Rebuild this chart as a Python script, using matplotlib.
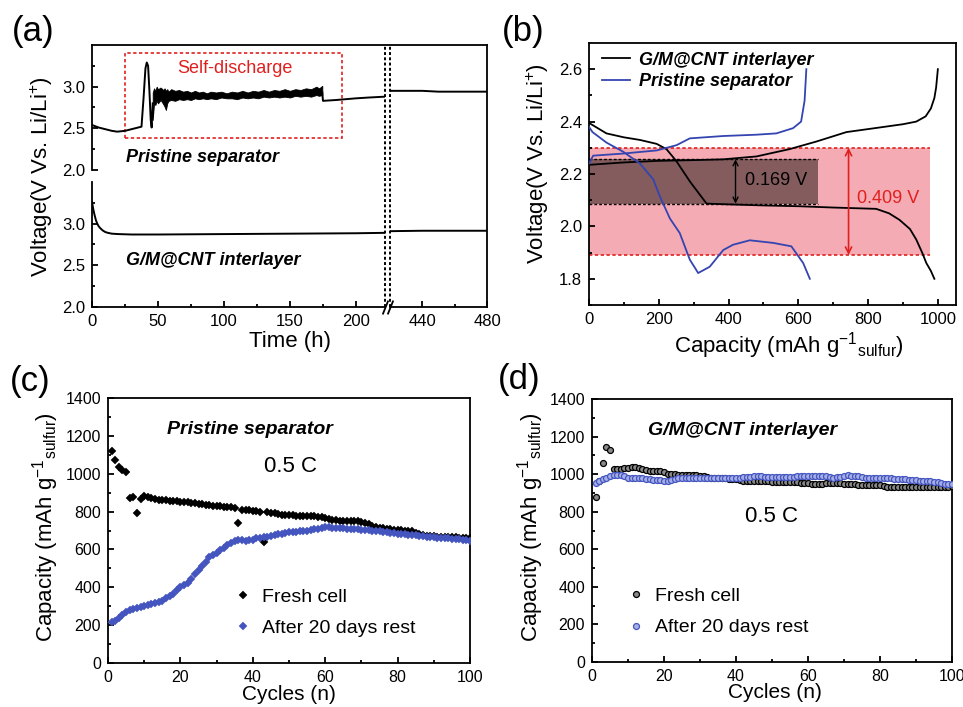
import matplotlib
matplotlib.use("Agg")
import matplotlib.pyplot as plt
import matplotlib.transforms as mtransforms
from matplotlib.patches import Rectangle
import numpy as np

plt.rcParams['font.family'] = ['Liberation Sans', 'DejaVu Sans']
plt.rcParams['mathtext.fontset'] = 'custom'
plt.rcParams['mathtext.rm'] = 'Liberation Sans'
plt.rcParams['mathtext.it'] = 'Liberation Sans:italic'
plt.rcParams['mathtext.bf'] = 'Liberation Sans:bold'

# ---------------- data: panel (a) ----------------
# Pristine separator (top trace), left segment
t_pris = [0, 5, 10, 15, 19, 25, 30, 35, 37.5, 39, 40.5, 41.5, 42.5, 43.5, 44.5, 45.2, 46]
v_pris = [2.54, 2.51, 2.49, 2.47, 2.46, 2.47, 2.49, 2.51, 2.52, 2.85, 3.22, 3.29, 3.25, 2.95, 2.60, 2.51, 2.80]
# noisy self-discharge band (lower / upper envelope)
t_band = [46, 47, 48, 49, 50, 52, 54, 55, 56, 57, 58, 60, 63, 66, 69, 72, 75, 78, 81, 84,
          87, 90, 94, 98, 102, 106, 110, 114, 118, 122, 126, 130, 134, 138, 142, 146, 150,
          154, 158, 162, 166, 170, 172, 174.5]
hi_band = [2.93, 2.98, 2.95, 3.00, 2.97, 2.99, 2.96, 2.98, 2.95, 2.97, 2.94, 2.97, 2.95, 2.96,
           2.94, 2.95, 2.93, 2.95, 2.93, 2.94, 2.92, 2.94, 2.93, 2.94, 2.92, 2.94, 2.93, 2.95,
           2.93, 2.95, 2.94, 2.96, 2.94, 2.96, 2.95, 2.97, 2.95, 2.97, 2.96, 2.98, 2.97, 3.00,
           2.98, 3.01]
lo_band = [2.60, 2.80, 2.78, 2.83, 2.80, 2.84, 2.79, 2.76, 2.72, 2.80, 2.83, 2.84, 2.83, 2.85,
           2.84, 2.85, 2.84, 2.86, 2.85, 2.86, 2.85, 2.86, 2.85, 2.87, 2.86, 2.86, 2.85, 2.87,
           2.86, 2.87, 2.86, 2.88, 2.87, 2.88, 2.87, 2.88, 2.87, 2.89, 2.88, 2.89, 2.88, 2.90,
           2.89, 2.90]
t_pris2 = [174.5, 175, 185, 200, 210, 222]
v_pris2 = [2.93, 2.83, 2.84, 2.86, 2.87, 2.88]
t_pris_r = [420, 430, 440, 450, 460, 470, 480]
v_pris_r = [2.95, 2.95, 2.95, 2.94, 2.94, 2.94, 2.94]
# G/M@CNT interlayer (bottom trace)
t_gm = [0, 1, 2, 3, 4, 5, 6, 8, 10, 12, 15, 20, 30, 50, 100, 150, 200, 222]
v_gm = [3.26, 3.17, 3.10, 3.04, 3.00, 2.97, 2.95, 2.92, 2.90, 2.89, 2.88, 2.875, 2.87, 2.87, 2.875, 2.88, 2.885, 2.89]
t_gm_r = [420, 440, 460, 480]
v_gm_r = [2.91, 2.915, 2.915, 2.915]

# ---------------- data: panel (b) ----------------
cap_gm_dis = [0, 50, 100, 146, 194, 222, 250, 290, 337, 400, 500, 600, 700, 823, 860, 890, 920, 938, 955, 967, 980, 990]
v_gm_dis = [2.395, 2.355, 2.34, 2.33, 2.315, 2.295, 2.25, 2.17, 2.087, 2.084, 2.08, 2.077, 2.072, 2.067, 2.05, 2.025, 1.99, 1.95, 1.90, 1.86, 1.83, 1.80]
cap_gm_ch = [0, 98, 194, 300, 385, 480, 575, 652, 738, 814, 900, 938, 965, 980, 990, 995, 1000]
v_gm_ch = [2.235, 2.244, 2.25, 2.253, 2.256, 2.267, 2.295, 2.324, 2.36, 2.374, 2.39, 2.40, 2.42, 2.45, 2.49, 2.53, 2.60]
cap_pr_dis = [0, 10, 50, 98, 146, 184, 203, 232, 260, 289, 313, 346, 385, 413, 461, 528, 580, 614, 633]
v_pr_dis = [2.38, 2.36, 2.32, 2.285, 2.24, 2.18, 2.115, 2.03, 1.975, 1.873, 1.822, 1.846, 1.91, 1.93, 1.947, 1.937, 1.924, 1.86, 1.80]
cap_pr_ch = [0, 12, 98, 194, 251, 289, 385, 480, 537, 585, 608, 618, 623]
v_pr_ch = [2.24, 2.27, 2.278, 2.29, 2.31, 2.336, 2.345, 2.35, 2.355, 2.375, 2.40, 2.48, 2.60]
band_red = (1.891, 2.300)   # 0.409 V window
band_dark = (2.087, 2.256)  # 0.169 V window
band_red_x = 978
band_dark_x = 655

# ---------------- data: panel (c) ----------------
cycles = list(range(1, 101))
c_fresh = [1120, 1075, 1035, 1020, 1008, 870, 875, 790, 865, 884,
           878, 870, 866, 862, 860, 860, 858, 857, 855, 852,
           850, 848, 847, 845, 842, 840, 836, 833, 830, 829,
           828, 826, 825, 823, 820, 740, 810, 808, 806, 805,
           803, 800, 637, 800, 795, 792, 788, 784, 782, 780,
           780, 778, 776, 775, 775, 775, 774, 772, 770, 768,
           763, 758, 755, 752, 750, 750, 750, 750, 748, 745,
           740, 733, 725, 718, 715, 712, 710, 708, 705, 703,
           702, 700, 698, 695, 688, 680, 676, 673, 671, 670,
           668, 668, 667, 666, 665, 664, 662, 661, 660, 658]
c_rest = [215, 220, 238, 255, 272, 282, 287, 292, 297, 302,
          306, 311, 316, 322, 330, 345, 355, 365, 385, 402,
          410, 425, 445, 468, 490, 510, 535, 558, 570, 582,
          595, 608, 622, 636, 643, 648, 648, 645, 648, 652,
          658, 662, 665, 668, 672, 676, 680, 683, 686, 690,
          692, 694, 696, 698, 700, 703, 706, 710, 714, 718,
          717, 715, 713, 712, 711, 710, 708, 707, 706, 705,
          704, 702, 700, 698, 696, 693, 690, 688, 686, 684,
          682, 680, 678, 676, 674, 672, 670, 668, 666, 664,
          662, 660, 659, 658, 656, 655, 653, 651, 649, 647]

# ---------------- data: panel (d) ----------------
d_fresh = [880, 965, 1060, 1145, 1128, 1026, 1028, 1030, 1032, 1035,
           1036, 1036, 1034, 1025, 1020, 1018, 1017, 1016, 1015, 1012,
           1002, 1000, 999, 998, 998, 997, 996, 995, 994, 992,
           988, 985, 982, 980, 978, 978, 977, 976, 975, 974,
           968, 966, 965, 965, 965, 965, 965, 964, 962, 958,
           957, 957, 956, 956, 956, 956, 956, 955, 955, 954,
           950, 950, 950, 950, 951, 952, 952, 952, 952, 950,
           948, 947, 945, 943, 942, 942, 943, 944, 944, 943,
           938, 934, 932, 931, 931, 930, 930, 929, 929, 929,
           929, 930, 930, 930, 931, 932, 932, 933, 934, 935]
d_rest = [955, 965, 975, 982, 990, 995, 998, 998, 992, 982,
          978, 978, 978, 977, 976, 972, 968, 968, 968, 966,
          965, 968, 975, 978, 978, 978, 978, 979, 980, 980,
          980, 980, 980, 979, 978, 980, 982, 982, 982, 981,
          980, 983, 986, 987, 988, 988, 988, 986, 985, 984,
          984, 984, 985, 986, 986, 987, 988, 988, 989, 990,
          990, 990, 991, 992, 990, 984, 982, 983, 986, 992,
          993, 992, 990, 988, 985, 980, 978, 978, 978, 978,
          978, 977, 977, 976, 975, 973, 972, 970, 969, 968,
          966, 964, 963, 962, 960, 957, 954, 950, 948, 947]

# ---------------- styling ----------------
W, H = 963, 707
fig = plt.figure(figsize=(W / 100, H / 100), dpi=100)
BLUE = '#3444b0'
BLUE_C = '#4455c0'
RED = '#e0201e'
PINK = '#f4abb4'
DARK = '#845c5e'
SPW = 1.3
TICKFS = 12
BOLDIT = dict(fontweight='bold', fontstyle='italic')


def rect(l, t, r, b):
    return [l / W, 1 - b / H, (r - l) / W, (b - t) / H]


def style(ax, left=True, bottom=True, fs=TICKFS):
    for s in ['top', 'right']:
        ax.spines[s].set_visible(False)
    ax.spines['left'].set_visible(left)
    ax.spines['bottom'].set_visible(bottom)
    for s in ax.spines.values():
        s.set_linewidth(SPW)
    ax.tick_params(which='both', direction='in', width=SPW, labelsize=fs, pad=5,
                   top=False, right=False, left=left, bottom=bottom,
                   labelleft=left, labelbottom=bottom)
    ax.tick_params(which='major', length=4.5)
    ax.tick_params(which='minor', length=2.5)
    ax.patch.set_visible(False)


# ================= panel (a) =================
axF = fig.add_axes(rect(92, 45, 487, 307))
axF.set_xticks([]); axF.set_yticks([])
axF.spines['left'].set_visible(False)
axF.spines['bottom'].set_visible(False)
for s in ['top', 'right']:
    axF.spines[s].set_linewidth(SPW)
axF.patch.set_visible(False)

TL = fig.add_axes(rect(92, 45, 385, 170))
TR = fig.add_axes(rect(390, 45, 487, 170))
BL = fig.add_axes(rect(92, 182, 385, 307))
BR = fig.add_axes(rect(390, 182, 487, 307))
style(TL, left=True, bottom=False)
style(TR, left=False, bottom=False)
style(BL, left=True, bottom=True)
style(BR, left=False, bottom=True)
for ax in (TL, BL):
    ax.set_xlim(0, 222)
for ax in (TR, BR):
    ax.set_xlim(420, 480)
for ax in (TL, TR, BL, BR):
    ax.set_ylim(2.0, 3.5)
for ax in (TL, BL):
    ax.set_yticks([2.0, 2.5, 3.0])
    ax.set_yticks([2.25, 2.75, 3.25], minor=True)
    ax.set_yticklabels(['2.0', '2.5', '3.0'])
for ax in (TR, BR):
    ax.set_yticks([])
TL.set_xticks([]); TR.set_xticks([])
BL.set_xticks([0, 50, 100, 150, 200])
BL.set_xticks([25, 75, 125, 175], minor=True)
BR.set_xticks([440, 480])
BR.set_xticks([460], minor=True)

lw_a = 1.4
TL.plot(t_pris, v_pris, color='k', lw=lw_a)
TL.fill_between(t_band, lo_band, hi_band, color='k', lw=0.6)
TL.plot(t_pris2, v_pris2, color='k', lw=lw_a)
TR.plot(t_pris_r, v_pris_r, color='k', lw=lw_a)
BL.plot(t_gm, v_gm, color='k', lw=lw_a)
BR.plot(t_gm_r, v_gm_r, color='k', lw=lw_a)

TL.add_patch(Rectangle((25, 2.38), 164.4, 1.02, fill=False, edgecolor=RED,
                       lw=1.2, ls=(0, (2, 1.5)), clip_on=False))
TL.text(108, 3.22, 'Self-discharge', color=RED, fontsize=13, ha='center', va='center')
TL.text(26, 2.155, 'Pristine separator', fontsize=13, ha='left', va='center', **BOLDIT)
BL.text(26, 2.56, 'G/M@CNT interlayer', fontsize=13, ha='left', va='center', **BOLDIT)

trL = mtransforms.blended_transform_factory(BL.transData, axF.transAxes)
trR = mtransforms.blended_transform_factory(BR.transData, axF.transAxes)
axF.plot([222, 222], [0, 1], transform=trL, color='k', lw=1.4, ls=(0, (1.5, 1.2)), clip_on=False)
axF.plot([420, 420], [0, 1], transform=trR, color='k', lw=1.4, ls=(0, (1.5, 1.2)), clip_on=False)
brk = [(-0.6, -1.5), (0.6, 1.5)]
BL.plot([1], [0], transform=BL.transAxes, marker=brk, markersize=10, mew=1.3,
        color='k', mec='k', clip_on=False, ls='none')
BR.plot([0], [0], transform=BR.transAxes, marker=brk, markersize=10, mew=1.3,
        color='k', mec='k', clip_on=False, ls='none')

fig.text(290 / W, 1 - 341 / H, 'Time (h)', fontsize=16, ha='center', va='center')
fig.text(42 / W, 1 - 177 / H, r'Voltage(V Vs. Li/Li$^{+}$)', fontsize=16,
         ha='center', va='center', rotation=90)
fig.text(12 / W, 1 - 32 / H, '(a)', fontsize=25, ha='left', va='center')

# ================= panel (b) =================
axB = fig.add_axes(rect(589, 43, 956, 305))
style(axB)
axB.set_xlim(0, 1052)
axB.set_ylim(1.7, 2.7)
axB.set_xticks([0, 200, 400, 600, 800, 1000])
axB.set_xticks([100, 300, 500, 700, 900], minor=True)
axB.set_yticks([1.8, 2.0, 2.2, 2.4, 2.6])
axB.set_yticks([1.7, 1.9, 2.1, 2.3, 2.5], minor=True)
axB.set_yticklabels(['1.8', '2.0', '2.2', '2.4', '2.6'])
for s in ['top', 'right']:
    axB.spines[s].set_visible(True)
    axB.spines[s].set_linewidth(SPW)

axB.fill_between([0, band_red_x], band_red[0], band_red[1], color=PINK, lw=0, zorder=0)
axB.fill_between([0, band_dark_x], band_dark[0], band_dark[1], color=DARK, lw=0, zorder=0.5)
for yv in band_red:
    axB.plot([0, band_red_x], [yv, yv], color=RED, lw=1.2, ls=(0, (2, 1.5)), zorder=1)
for yv in band_dark:
    axB.plot([0, band_dark_x], [yv, yv], color='k', lw=1.0, ls=(0, (2, 1.5)), zorder=1)

axB.plot(cap_gm_dis, v_gm_dis, color='k', lw=1.3, zorder=3, label='G/M@CNT interlayer')
axB.plot(cap_gm_ch, v_gm_ch, color='k', lw=1.3, zorder=3)
axB.plot(cap_pr_dis, v_pr_dis, color=BLUE, lw=1.3, zorder=3, label='Pristine separator')
axB.plot(cap_pr_ch, v_pr_ch, color=BLUE, lw=1.3, zorder=3)

axB.annotate('', xy=(420, band_dark[1]), xytext=(420, band_dark[0]),
             arrowprops=dict(arrowstyle='<->', color='k', lw=1.0,
                             shrinkA=0, shrinkB=0, mutation_scale=9), zorder=4)
axB.annotate('', xy=(744, band_red[1]), xytext=(744, band_red[0]),
             arrowprops=dict(arrowstyle='<->', color=RED, lw=1.2,
                             shrinkA=0, shrinkB=0, mutation_scale=11), zorder=4)
axB.text(446, 2.176, '0.169 V', fontsize=13, ha='left', va='center', zorder=5)
axB.text(768, 2.106, '0.409 V', fontsize=13, ha='left', va='center', color=RED, zorder=5)

legB = axB.legend(loc='upper left', bbox_to_anchor=(0.0, 1.015), frameon=False,
                  prop=dict(size=13, weight='bold', style='italic'),
                  handlelength=1.55, handletextpad=0.5, labelspacing=0.25,
                  borderaxespad=0.3)

fig.text(538 / W, 1 - 164 / H, r'Voltage(V Vs. Li/Li$^{+}$)', fontsize=16,
         ha='center', va='center', rotation=90)
fig.text(789 / W, 1 - 346 / H, r'Capacity (mAh g$^{-1}$$_{\mathrm{sulfur}}$)', fontsize=16,
         ha='center', va='center')
fig.text(502 / W, 1 - 32 / H, '(b)', fontsize=25, ha='left', va='center')

# ================= panels (c), (d) =================
def cap_axes(r):
    ax = fig.add_axes(r)
    style(ax, fs=11.5)
    for s in ['top', 'right']:
        ax.spines[s].set_visible(True)
        ax.spines[s].set_linewidth(SPW)
    ax.set_xlim(0, 100)
    ax.set_ylim(0, 1400)
    ax.set_xticks([0, 20, 40, 60, 80, 100])
    ax.set_xticks([10, 30, 50, 70, 90], minor=True)
    ax.set_yticks(list(range(0, 1401, 200)))
    ax.set_yticks(list(range(100, 1400, 200)), minor=True)
    return ax


axC = cap_axes(rect(108, 398, 470, 663))
axC.plot(cycles, c_fresh, ls='none', marker='D', ms=3.6, color='k', mec='k', mew=0.3,
         label='Fresh cell', zorder=3)
axC.plot(cycles, c_rest, ls='none', marker='D', ms=3.6, color=BLUE_C, mec=BLUE_C, mew=0.3,
         label='After 20 days rest', zorder=3)
axC.text(16.3, 1231, 'Pristine separator', fontsize=14, ha='left', va='center', **BOLDIT)
axC.text(50.3, 1037, '0.5 C', fontsize=16, ha='center', va='center')
axC.legend(loc='center left', bbox_to_anchor=(0.345, 0.19), frameon=False, fontsize=14,
           handlelength=1.0, handletextpad=0.5, labelspacing=0.7, borderaxespad=0,
           borderpad=0)

axD = cap_axes(rect(592, 399, 952, 662))
axD.plot(cycles, d_fresh, ls='none', marker='o', ms=4.3, mfc='#8a8a8a', mec='k', mew=0.9,
         label='Fresh cell', zorder=3)
axD.plot(cycles, d_rest, ls='none', marker='o', ms=4.3, mfc='#a7b0e6', mec=BLUE_C, mew=0.9,
         label='After 20 days rest', zorder=3)
axD.text(15.6, 1232, 'G/M@CNT interlayer', fontsize=14, ha='left', va='center', **BOLDIT)
axD.text(49.9, 773, '0.5 C', fontsize=16, ha='center', va='center')
axD.legend(loc='center left', bbox_to_anchor=(0.095, 0.19), frameon=False, fontsize=14,
           handlelength=1.0, handletextpad=0.5, labelspacing=0.7, borderaxespad=0,
           borderpad=0)

cap_label = r'Capacity (mAh g$^{-1}$$_{\mathrm{sulfur}}$)'
fig.text(46 / W, 1 - 527 / H, cap_label, fontsize=16, ha='center', va='center', rotation=90)
fig.text(531 / W, 1 - 527 / H, cap_label, fontsize=16, ha='center', va='center', rotation=90)
fig.text(289 / W, 1 - 695 / H, 'Cycles (n)', fontsize=15, ha='center', va='center')
fig.text(775 / W, 1 - 693 / H, 'Cycles (n)', fontsize=15, ha='center', va='center')
fig.text(10 / W, 1 - 382 / H, '(c)', fontsize=25, ha='left', va='center')
fig.text(498 / W, 1 - 380 / H, '(d)', fontsize=25, ha='left', va='center')

fig.savefig('out.png', dpi=100)
